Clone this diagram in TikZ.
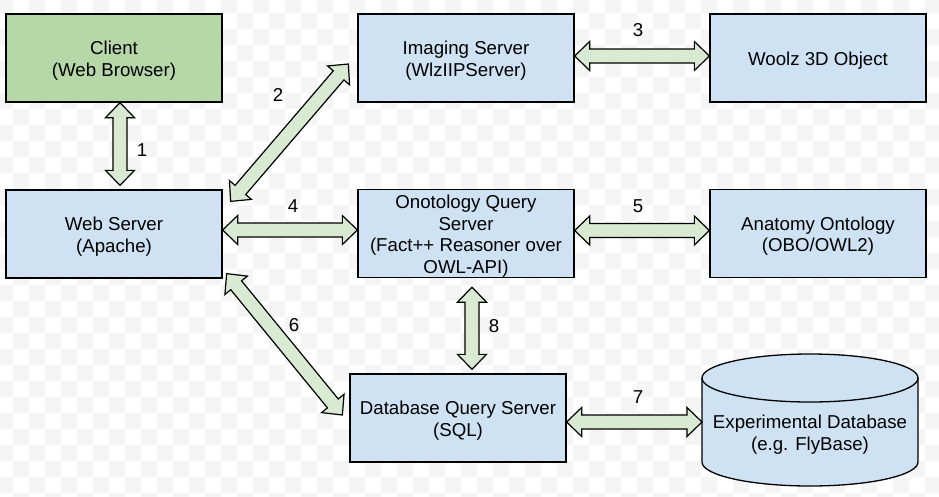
\documentclass[tikz,border=0pt]{standalone}
\usepackage{fontspec}
\setmainfont{Liberation Sans}
\usetikzlibrary{calc}
\definecolor{bgray}{HTML}{F5F5F5}
\definecolor{boxgreen}{HTML}{B6D7A8}
\definecolor{boxblue}{HTML}{CFE2F3}
\definecolor{arrowgreen}{HTML}{D9EAD3}
\tikzset{
  txt/.style={font=\fontsize{18.67pt}{21.5pt}\selectfont, align=center, text=black},
  boxtext/.style={txt, inner sep=0pt, yshift=-2.5pt},
  box/.style={draw=black, line width=1.3pt, minimum width=216pt, minimum height=88pt, inner sep=0pt},
  greenbox/.style={box, fill=boxgreen},
  bluebox/.style={box, fill=boxblue},
  barrowstyle/.style={draw=black, fill=arrowgreen, line width=1.2pt, line join=miter},
  numlabel/.style={txt, inner sep=0pt},
  cylline/.style={draw=black, line width=1.3pt}
}
\newcommand\mkdblarrow[2]{%
  \coordinate (h1) at ($(#1)!15pt!(#2)$);
  \coordinate (h2) at ($(#2)!15pt!(#1)$);
  \draw[barrowstyle] (#1) -- ($(h1)!14.5pt!90:(#2)$) -- ($(h1)!7pt!90:(#2)$)
    -- ($(h2)!7pt!-90:(#1)$) -- ($(h2)!14.5pt!-90:(#1)$) -- (#2)
    -- ($(h2)!14.5pt!90:(#1)$) -- ($(h2)!7pt!90:(#1)$)
    -- ($(h1)!7pt!-90:(#2)$) -- ($(h1)!14.5pt!-90:(#2)$) -- cycle;}
\begin{document}
\begin{tikzpicture}[x=1pt,y=-1pt]
\useasboundingbox (0,0) rectangle (939,496);
% checkerboard background
\begin{scope}
\clip (0,0) rectangle (939,496);
\fill[white] (0,0) rectangle (939,496);
\foreach \i in {-1,...,58} {
  \foreach \j in {-1,...,30} {
    \pgfmathtruncatemacro\chk{mod(\i+\j+100,2)}
    \ifnum\chk=0 \fill[bgray] (13+16*\i,13+16*\j) rectangle ++(16,16); \fi
  }
}
\end{scope}

% boxes
\node[greenbox, label={[boxtext]center:Client\\(Web Browser)}] (client) at (114,58) {};
\node[bluebox, label={[boxtext]center:Web Server\\(Apache)}] (web) at (114,234) {};
\node[bluebox, label={[boxtext]center:Imaging Server\\(WlzIIPServer)}] (imaging) at (466,58) {};
\node[bluebox, label={[boxtext]center:Woolz 3D Object}] (woolz) at (818,58) {};
\node[bluebox, label={[boxtext]center:Onotology Query\\Server\\(Fact++ Reasoner over\\OWL-API)}] (onto) at (466,233.5) {};
\node[bluebox, label={[boxtext]center:Anatomy Ontology\\(OBO/OWL2)}] (anat) at (818,233.5) {};
\node[bluebox, label={[boxtext]center:Database Query Server\\(SQL)}] (dbq) at (458,418) {};

% cylinder
\coordinate (expdb) at (810,432);
\coordinate (cyltl) at (702,378);
\coordinate (cyltr) at (918,378);
\coordinate (cylbl) at (702,462);
\draw[cylline, fill=boxblue] (cyltl) -- (cylbl)
  arc[start angle=180, end angle=360, x radius=108pt, y radius=24pt]
  -- (cyltr)
  arc[start angle=0, end angle=180, x radius=108pt, y radius=24pt] -- cycle;
\draw[cylline] (cyltl)
  arc[start angle=180, end angle=360, x radius=108pt, y radius=24pt];
\node[boxtext] (exptext) at (expdb) {Experimental Database\\(e.g. FlyBase)};

% arrow end points
\coordinate (e1a) at ($(client.south)+(6,0)$);
\coordinate (e1b) at ($(web.north)+(6,-4)$);
\coordinate (e2a) at ($(web.north east)+(8,12)$);
\coordinate (e2b) at ($(imaging.west)+(-9,6)$);
\coordinate (e3a) at ($(imaging.east)+(0,-2)$);
\coordinate (e3b) at ($(woolz.west)+(0,-2)$);
\coordinate (e4a) at ($(web.east)+(0,-4)$);
\coordinate (e4b) at ($(onto.west)+(0,-3.5)$);
\coordinate (e5a) at ($(onto.east)+(0,-3)$);
\coordinate (e5b) at ($(anat.west)+(0,-3)$);
\coordinate (e6a) at ($(web.south east)+(4,-5)$);
\coordinate (e6b) at ($(dbq.west)+(-7,-3)$);
\coordinate (e7a) at ($(dbq.east)+(0,4)$);
\coordinate (e7b) at ($(expdb)+(-108,-10)$);
\coordinate (e8a) at ($(onto.south)+(6,9)$);
\coordinate (e8b) at ($(dbq.north)+(14,-4)$);

\mkdblarrow{e1a}{e1b}
\mkdblarrow{e2a}{e2b}
\mkdblarrow{e3a}{e3b}
\mkdblarrow{e4a}{e4b}
\mkdblarrow{e5a}{e5b}
\mkdblarrow{e6a}{e6b}
\mkdblarrow{e7a}{e7b}
\mkdblarrow{e8a}{e8b}

% labels
\node[numlabel] (l1) at (142,150) {1};
\node[numlabel] (l2) at (278,95) {2};
\node[numlabel] (l3) at (638,30) {3};
\node[numlabel] (l4) at (293,206) {4};
\node[numlabel] (l5) at (638,206) {5};
\node[numlabel] (l6) at (294,325) {6};
\node[numlabel] (l7) at (638,397) {7};
\node[numlabel] (l8) at (494,326) {8};
\end{tikzpicture}
\end{document}
